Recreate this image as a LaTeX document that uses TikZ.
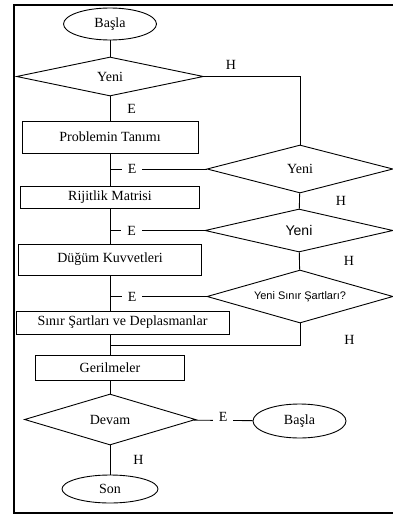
\documentclass[tikz,border=0pt]{standalone}
\usepackage{fontspec}
\setmainfont{Liberation Serif}
\setsansfont{Liberation Sans}
\usetikzlibrary{positioning,shapes.geometric}

\begin{document}
\begin{tikzpicture}[x=1pt,y=-1pt,line width=0.9pt,
	font=\fontsize{14}{16}\selectfont,
	term/.style={draw,ellipse,inner sep=0pt},
	proc/.style={draw,rectangle,inner sep=0pt},
	dec/.style={draw,diamond,shape aspect=3.5,inner sep=0pt},
	lbl/.style={inner sep=1pt},
	gap/.style={fill=white,inner ysep=1pt,inner xsep=6pt}]
	\useasboundingbox (0,0) rectangle (393,516);
	\draw[line width=2.3pt] (14,5) rectangle (400,513);

	% main column
	\node[term,minimum width=93,minimum height=32] (basla1) at (110,24) {Başla};
	\node[dec,minimum width=187,minimum height=39] (yeni1) at (110,76.5) {Yeni};
	\node[proc,minimum width=176,minimum height=32] (tanim) at (110,137) {Problemin Tanımı};
	\node[proc,minimum width=179,minimum height=22] (rijit) at (110,197) {Rijitlik Matrisi};
	\node[proc,minimum width=183,minimum height=31] (dugum) at (110,259.5) {Düğüm Kuvvetleri};
	\node[proc,minimum width=213,minimum height=23] (sinir) at (122.5,322.5) {Sınır Şartları ve Deplasmanlar};
	\node[proc,minimum width=149,minimum height=25] (geril) at (110,367.5) {Gerilmeler};
	\node[dec,minimum width=171,minimum height=51] (devam) at (110,419.5) {Devam};
	\node[term,minimum width=96,minimum height=28] (son) at (110,489) {Son};
	\node[term,minimum width=93,minimum height=34] (basla2) at (299.5,421) {Başla};

	% right column
	\node[dec,minimum width=186,minimum height=48] (yeni2) at (300,169) {Yeni};
	\node[dec,minimum width=188,minimum height=43,font=\sffamily\fontsize{14}{16}\selectfont] (yeni3) at (299,230.5) {Yeni};
	\node[dec,minimum width=186,minimum height=53,font=\sffamily\fontsize{11}{13}\selectfont] (yeni4) at (300,296.5) {Yeni Sınır Şartları?};
	\coordinate (join) at (110,345);

	\draw (basla1) -- (yeni1);
	\draw (yeni1) -- node[lbl,right=16pt] {E} (tanim);
	\draw (tanim) -- (rijit);
	\draw (rijit) -- (dugum);
	\draw (dugum) -- (dugum |- sinir.north);
	\draw (sinir.south -| geril) -- (geril);
	\draw (geril) -- (devam);
	\draw (devam) -- node[lbl,right=22pt] {H} (son);
	\draw (devam) -- node[gap,yshift=3pt] {E} (basla2);

	\draw (yeni1) -| node[lbl,pos=0.14,above=6pt] {H} (yeni2);
	\draw (yeni2) -- node[gap,pos=0.77] {E} (yeni2 -| tanim);
	\draw (yeni2) -- node[lbl,right=35pt] {H} (yeni3);
	\draw (yeni3) -- node[gap,pos=0.77] {E} (yeni3 -| tanim);
	\draw (yeni3) -- node[lbl,right=43pt] {H} (yeni4);
	\draw (yeni4) -- node[gap,pos=0.77] {E} (yeni4 -| tanim);
	\draw (yeni4) |- node[lbl,pos=0.3,right=43pt,yshift=-4pt] {H} (join);
\end{tikzpicture}
\end{document}
